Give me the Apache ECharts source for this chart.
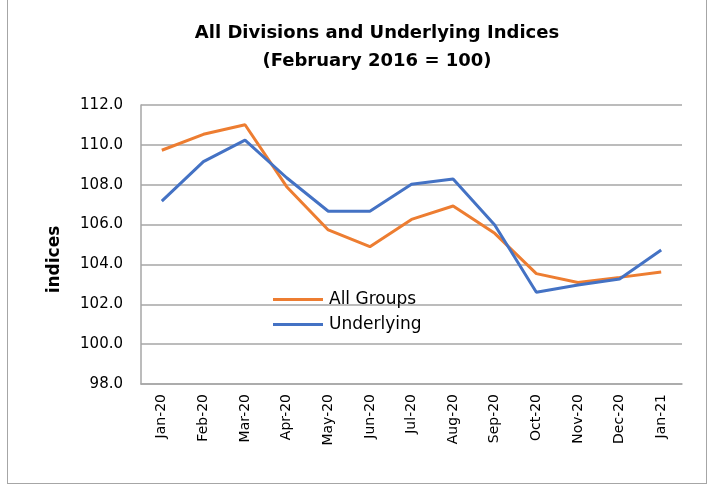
<!DOCTYPE html>
<html>
<head>
<meta charset="utf-8">
<script src="https://cdn.jsdelivr.net/npm/echarts@6/dist/echarts.min.js"></script>
<style>
  html, body { margin: 0; padding: 0; background: #fff; }
  #frame { position: absolute; left: 7px; top: -2px; width: 700px; height: 486px; border: 1px solid #a6a6a6; box-sizing: border-box; }
  #chart { width: 715px; height: 486px; }
</style>
</head>
<body>
<div id="frame"></div>
<div id="chart"></div>
<script>
  // months on the x axis
  const months = ['Jan-20', 'Feb-20', 'Mar-20', 'Apr-20', 'May-20', 'Jun-20', 'Jul-20',
    'Aug-20', 'Sep-20', 'Oct-20', 'Nov-20', 'Dec-20', 'Jan-21'];
  // index values
  const allGroups = [109.73, 110.53, 111.01, 107.90, 105.73, 104.89, 106.26, 106.93, 105.56, 103.54, 103.09, 103.35, 103.62];
  const underlying = [107.18, 109.16, 110.24, 108.35, 106.67, 106.67, 108.02, 108.29, 105.98, 102.60, 102.97, 103.27, 104.72];

  const font = '"DejaVu Sans", sans-serif';
  const chart = echarts.init(document.getElementById('chart'));

  const option = {
    animation: false,
    title: {
      text: 'All Divisions and Underlying Indices\n(February 2016 = 100)',
      left: 372,
      top: 14,
      textAlign: 'center',
      textStyle: { fontFamily: font, fontSize: 18, fontWeight: 'bold', color: '#000', lineHeight: 28 }
    },
    legend: {
      orient: 'vertical',
      left: 273,
      top: 291,
      padding: 0,
      icon: 'rect',
      itemWidth: 50,
      itemHeight: 3,
      itemGap: 8,
      textStyle: { fontFamily: font, fontSize: 17, color: '#000', padding: [0, 0, 0, 1] },
      data: ['All Groups', 'Underlying']
    },
    grid: { left: 141, right: 33, top: 105, bottom: 102 },
    xAxis: {
      type: 'category',
      data: months,
      boundaryGap: true,
      axisLine: { lineStyle: { color: '#a6a6a6', width: 1.5 } },
      axisTick: { show: false },
      axisLabel: { rotate: 90, margin: 10, fontFamily: font, fontSize: 14, color: '#000' }
    },
    yAxis: {
      type: 'value',
      min: 98,
      max: 112,
      interval: 2,
      name: 'indices',
      nameLocation: 'middle',
      nameGap: 78,
      nameTextStyle: { fontFamily: font, fontSize: 17, fontWeight: 'bold', color: '#000', padding: [0, 30, 0, 0] },
      axisLine: { show: true, lineStyle: { color: '#a6a6a6', width: 1.5 } },
      axisTick: { show: false },
      splitLine: { lineStyle: { color: '#a6a6a6', width: 1.5 } },
      axisLabel: {
        margin: 18,
        fontFamily: font,
        fontSize: 15,
        color: '#000',
        formatter: v => v.toFixed(1)
      }
    },
    series: [
      {
        name: 'All Groups',
        type: 'line',
        data: allGroups,
        symbol: 'none',
        color: '#ED7D31',
        lineStyle: { width: 3, color: '#ED7D31' }
      },
      {
        name: 'Underlying',
        type: 'line',
        data: underlying,
        symbol: 'none',
        color: '#4472C4',
        lineStyle: { width: 3, color: '#4472C4' }
      }
    ]
  };

  chart.setOption(option);
</script>
</body>
</html>
